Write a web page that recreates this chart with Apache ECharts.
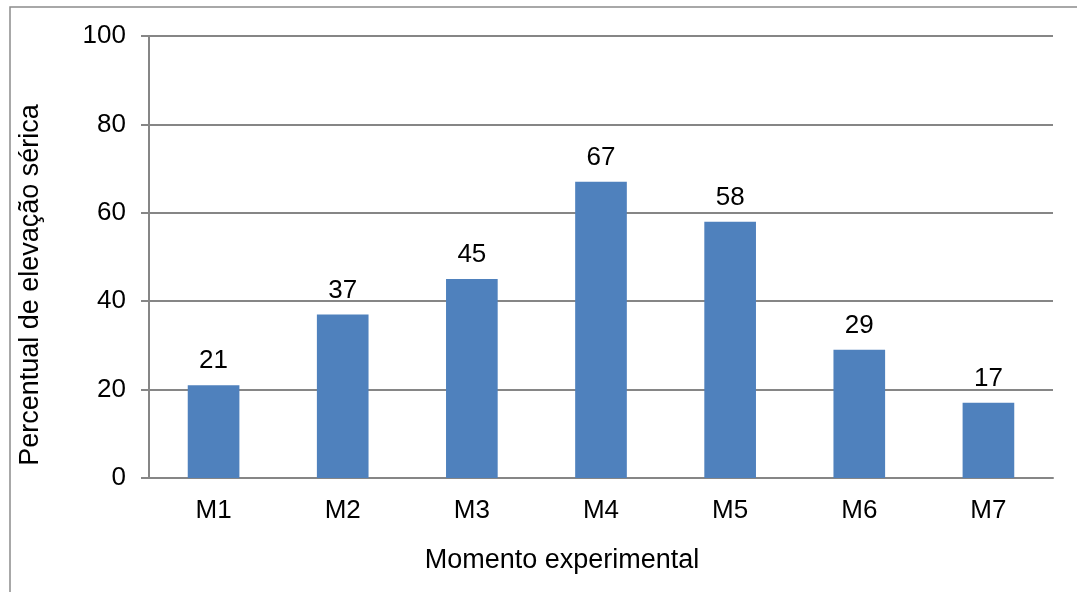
<!DOCTYPE html>
<html>
<head>
<meta charset="utf-8">
<script src="https://cdn.jsdelivr.net/npm/echarts@6/dist/echarts.min.js"></script>
<style>
  html, body { margin: 0; padding: 0; background: #fff; }
  #chart { width: 1077px; height: 592px; }
</style>
</head>
<body>
<div id="chart"></div>
<script>
// Percentual de elevação sérica por momento experimental
const categories = ['M1', 'M2', 'M3', 'M4', 'M5', 'M6', 'M7'];
const values = [21, 37, 45, 67, 58, 29, 17];
const yTicks = [0, 20, 40, 60, 80, 100];

const FONT = 'Liberation Sans, Arial, sans-serif';
const GRAY = '#868686';

const chart = echarts.init(document.getElementById('chart'));
chart.setOption({
  animation: false,
  backgroundColor: '#ffffff',
  graphic: [
    {
      type: 'rect',
      shape: { x: 10, y: 7, width: 1100, height: 620 },
      style: { fill: 'none', stroke: '#8c8c8c', lineWidth: 1.5 },
      silent: true
    },
    {
      // vertical axis title
      type: 'text',
      x: 31,
      y: 285,
      rotation: Math.PI / 2,
      style: {
        text: 'Percentual de elevação sérica',
        font: '27px ' + FONT,
        fill: '#000',
        align: 'center',
        verticalAlign: 'middle'
      }
    },
    {
      // horizontal axis title
      type: 'text',
      x: 562,
      y: 561,
      style: {
        text: 'Momento experimental',
        font: '27px ' + FONT,
        fill: '#000',
        align: 'center',
        verticalAlign: 'middle'
      }
    }
  ],
  grid: { left: 149, right: 24, top: 36, bottom: 114, containLabel: false },
  xAxis: {
    type: 'category',
    data: categories,
    axisLine: { lineStyle: { color: GRAY, width: 2 } },
    axisTick: { show: false },
    axisLabel: { fontFamily: FONT, fontSize: 26, color: '#000', margin: 20 }
  },
  yAxis: {
    type: 'value',
    min: yTicks[0],
    max: yTicks[yTicks.length - 1],
    interval: yTicks[1] - yTicks[0],
    axisLine: { show: true, lineStyle: { color: GRAY, width: 2 } },
    axisTick: { show: true, length: 8, lineStyle: { color: GRAY, width: 2 } },
    axisLabel: { fontFamily: FONT, fontSize: 26, color: '#000', margin: 23 },
    splitLine: { show: true, lineStyle: { color: GRAY, width: 2 } }
  },
  series: [{
    type: 'bar',
    data: values,
    barCategoryGap: '60%',
    itemStyle: { color: '#4F81BD' },
    label: {
      show: true,
      position: 'top',
      distance: 11,
      fontFamily: FONT,
      fontSize: 26,
      color: '#000'
    }
  }]
});
</script>
</body>
</html>
